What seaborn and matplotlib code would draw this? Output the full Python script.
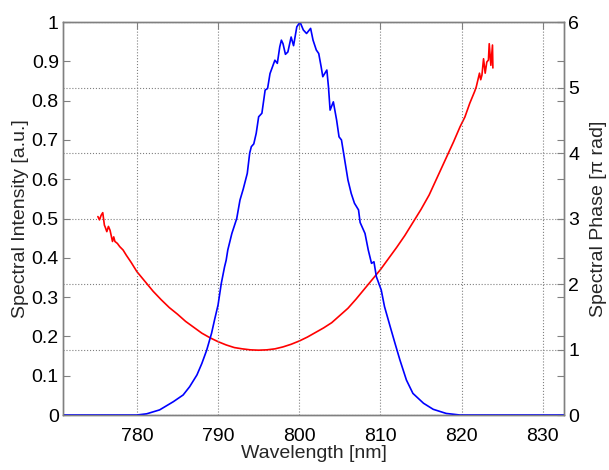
import matplotlib
matplotlib.use("Agg")
import matplotlib.pyplot as plt
import seaborn as sns
import pandas as pd
from matplotlib.ticker import FormatStrFormatter, MultipleLocator

# spectral intensity (blue)
wl_int = [770.9, 775.0, 779.0, 780.0, 781.2, 782.8, 784.5, 785.7, 786.5, 787.4,
          788.0, 788.6, 789.2, 789.6, 790.0, 790.4, 790.8, 791.0, 791.2, 791.7,
          792.3, 792.7, 793.1, 793.6, 793.9, 794.1, 794.4, 794.7, 795.0, 795.4,
          795.8, 796.1, 796.4, 797.0, 797.3, 797.6, 797.8, 798.0, 798.3, 798.6,
          799.0, 799.3, 799.7, 800.1, 800.5, 800.9, 801.4, 801.7, 802.1, 802.4,
          802.7, 802.9, 803.4, 803.6, 803.8, 804.2, 804.6, 804.9, 805.2, 805.6,
          806.0, 806.4, 806.8, 807.3, 807.5, 808.1, 808.5, 808.9, 809.2, 809.5,
          810.1, 810.5, 811.2, 811.8, 812.4, 813.2, 814.0, 815.3, 816.5, 818.1,
          819.8, 832.6]
intensity = [0.0, 0.0, 0.0, 0.0, 0.003, 0.013, 0.034, 0.051, 0.072, 0.102,
             0.131, 0.165, 0.208, 0.245, 0.28, 0.335, 0.377, 0.394, 0.42, 0.462,
             0.50, 0.547, 0.575, 0.615, 0.667, 0.683, 0.69, 0.717, 0.759, 0.768,
             0.827, 0.831, 0.869, 0.903, 0.895, 0.937, 0.954, 0.945, 0.918, 0.924,
             0.962, 0.94, 0.988, 1.0, 0.98, 0.971, 0.984, 0.954, 0.929, 0.92,
             0.886, 0.861, 0.878, 0.835, 0.776, 0.797, 0.751, 0.708, 0.700, 0.649,
             0.598, 0.564, 0.539, 0.522, 0.49, 0.462, 0.42, 0.386, 0.39, 0.352,
             0.318, 0.276, 0.225, 0.182, 0.14, 0.089, 0.055, 0.030, 0.0145, 0.004,
             0.0, 0.0]

# spectral phase (red), in units of pi
wl_phase = [775.2, 775.4, 775.6, 775.8, 776.0, 776.1, 776.3, 776.5, 776.7, 777.0,
            777.15, 777.3, 777.6, 777.9, 778.3, 778.7, 779.3, 780.0,
            781, 782, 783, 784, 785, 786, 787, 788, 789, 790, 791, 792, 793,
            794, 795, 796, 797, 798, 799, 800, 801, 802, 803, 804, 805, 806,
            807, 808, 809, 810, 811, 812, 813, 814, 815, 816, 817, 818, 819,
            819.8, 820.4, 821.0, 821.6, 821.8, 822.2, 822.35, 822.5, 822.7,
            822.9, 823.1, 823.3, 823.4, 823.6, 823.8, 823.85]
phase = [3.03, 2.98, 3.05, 3.09, 2.90, 2.87, 2.80, 2.88, 2.82, 2.65,
         2.72, 2.65, 2.62, 2.57, 2.52, 2.44, 2.33, 2.19,
         2.04, 1.89, 1.76, 1.64, 1.54, 1.43, 1.34, 1.25, 1.18, 1.12, 1.07, 1.03, 1.01,
         0.995, 0.99, 0.995, 1.01, 1.04, 1.08, 1.13, 1.19, 1.26, 1.33, 1.41, 1.52, 1.63,
         1.77, 1.92, 2.07, 2.22, 2.39, 2.56, 2.74, 2.94, 3.14, 3.36, 3.63, 3.90, 4.17,
         4.40, 4.55, 4.76, 4.94, 5.01, 5.22, 5.12, 5.19, 5.44,
         5.22, 5.39, 5.42, 5.67, 5.34, 5.65, 5.30]

x_ticks = [780, 790, 800, 810, 820, 830]

df_int = pd.DataFrame({"wl": wl_int, "val": intensity})
df_ph = pd.DataFrame({"wl": wl_phase, "val": phase})

sns.set_theme(style="white")
plt.rcParams["font.family"] = ["Liberation Sans", "DejaVu Sans"]
gray = "#808080"

fig, ax = plt.subplots(figsize=(6.09, 4.70), dpi=100)
fig.subplots_adjust(left=0.1034, right=0.926, bottom=0.117, top=0.953)
ax2 = ax.twinx()

sns.lineplot(data=df_int, x="wl", y="val", ax=ax, color="#0000ff",
             lw=1.2, sort=False, estimator=None)
sns.lineplot(data=df_ph, x="wl", y="val", ax=ax2, color="#ff0000",
             lw=1.2, sort=False, estimator=None)

ax.set_xlim(770.9, 832.6)
ax.set_ylim(0, 1)
ax2.set_ylim(0, 6)
ax.set_xticks(x_ticks)
ax.yaxis.set_major_locator(MultipleLocator(0.1))
ax2.yaxis.set_major_locator(MultipleLocator(1))
ax.yaxis.set_major_formatter(FormatStrFormatter("%g"))
ax2.yaxis.set_major_formatter(FormatStrFormatter("%g"))

for a in (ax, ax2):
    a.tick_params(direction="in", length=5, width=0.8, color=gray,
                  labelsize=14, labelcolor="black")
    for s in a.spines.values():
        s.set_color(gray)
        s.set_linewidth(1.0)
ax.tick_params(top=True, right=True, pad=3)
ax.tick_params(axis="x", pad=9)
ax2.tick_params(pad=3)

ax.set_xlabel("Wavelength [nm]", fontsize=14, labelpad=0)
ax.set_ylabel("Spectral Intensity [a.u.]", fontsize=14, labelpad=2)
ax2.set_ylabel("Spectral Phase [\u03c0 rad]", fontsize=14, labelpad=8)

# grid: vertical at x ticks, horizontal at phase ticks
ax.grid(False)
ax2.grid(False)
ax.xaxis.grid(True, linestyle=":", color=gray, lw=0.8)
ax2.yaxis.grid(True, linestyle=":", color=gray, lw=0.8)
ax.set_zorder(ax2.get_zorder() + 1)
ax.patch.set_visible(False)

plt.savefig("out.png", dpi=100)
